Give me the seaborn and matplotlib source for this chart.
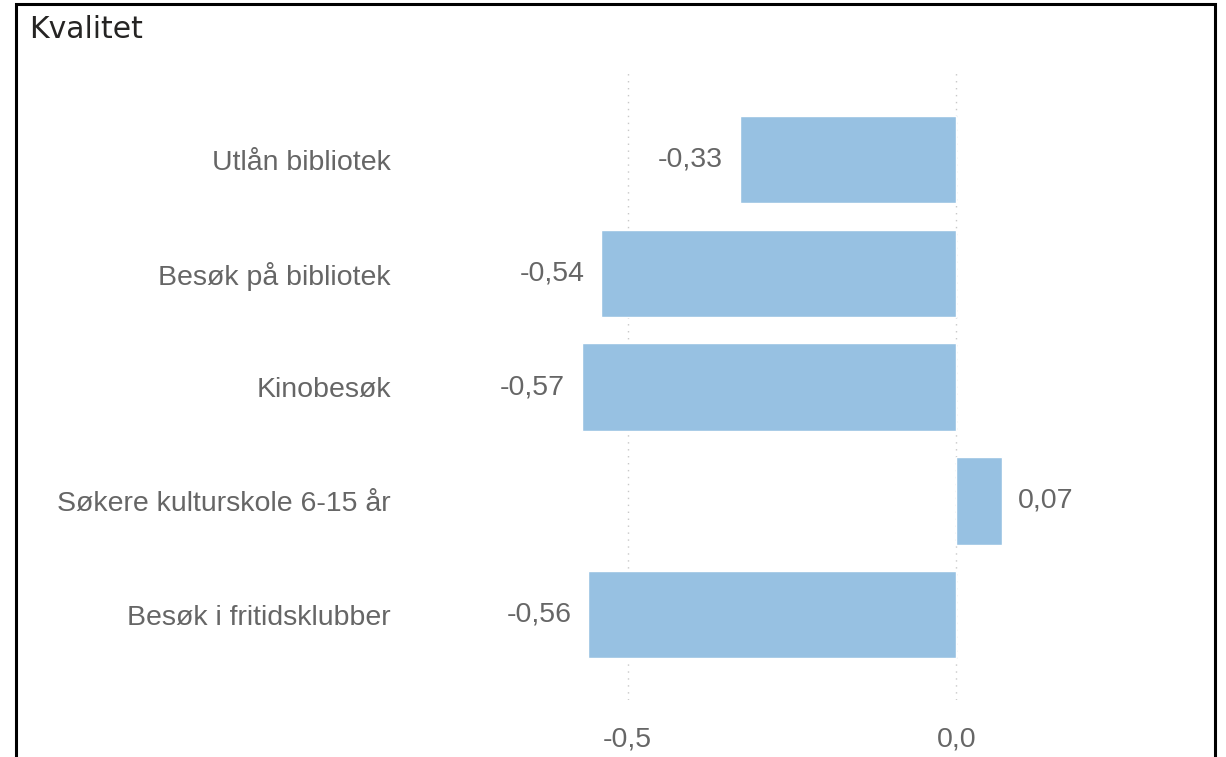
import matplotlib
matplotlib.use("Agg")
import matplotlib.pyplot as plt
import matplotlib.patches as mpatches
import seaborn as sns
import pandas as pd

# data
categories = ["Utlån bibliotek", "Besøk på bibliotek", "Kinobesøk",
              "Søkere kulturskole 6-15 år", "Besøk i fritidsklubber"]
values = [-0.33, -0.54, -0.57, 0.07, -0.56]
tick_values = [-0.5, 0.0]
tick_labels = ["-0,5", "0,0"]

df = pd.DataFrame({"kategori": categories, "verdi": values})

sns.set_theme(style="white")
plt.rcParams["font.family"] = ["Liberation Sans", "DejaVu Sans"]

fig = plt.figure(figsize=(12.26, 7.57), dpi=100)
ax = fig.add_axes([397.7 / 1226, 57 / 757, 802 / 1226, 628 / 757])

sns.barplot(data=df, x="verdi", y="kategori", orient="h", color="#97C1E2",
            saturation=1, width=0.77, ax=ax)

ax.set_xlim(-0.85, 0.37)
ax.set_ylim(4.75, -0.77)
ax.set_xticks(tick_values)
ax.set_xticklabels(tick_labels)
ax.tick_params(axis="x", labelsize=20.5, colors="#666666", length=0, pad=19)
ax.tick_params(axis="y", labelsize=20.5, colors="#666666", length=0, pad=5)
ax.set_xlabel("")
ax.set_ylabel("")
for s in ax.spines.values():
    s.set_visible(False)

# dotted grid lines at ticks
for t in tick_values:
    ax.axvline(t, color="#C8C8C8", linestyle=(0, (1, 4)), linewidth=1, zorder=0)

# data labels
for i, v in enumerate(values):
    txt = f"{v:.2f}".replace(".", ",")
    if v < 0:
        ax.annotate(txt, (v, i), xytext=(-12, 0), textcoords="offset points",
                    ha="right", va="center", fontsize=20.5, color="#666666")
    else:
        ax.annotate(txt, (v, i), xytext=(11, 0), textcoords="offset points",
                    ha="left", va="center", fontsize=20.5, color="#666666")

# title and frame
fig.text(29 / 1226, 1 - 29 / 757, "Kvalitet", fontsize=21.5, color="#252423",
         ha="left", va="center", family=["DejaVu Sans"])
frame = mpatches.Rectangle((16 / 1226, -0.05), (1215 - 16) / 1226, 1.05 - 4 / 757,
                           transform=fig.transFigure, fill=False,
                           edgecolor="black", linewidth=2.2)
fig.patches.append(frame)

fig.savefig("out.png", dpi=100)
